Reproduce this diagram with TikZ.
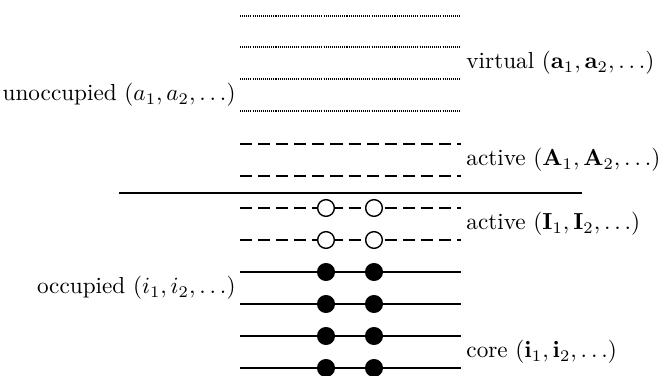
\documentclass[tikz,border=0pt]{standalone}
\usepackage{amsmath}
\usepackage{amssymb}
\usetikzlibrary{positioning}

\tikzset{
  orbit/.style={line width=0.8pt},
  virt/.style={line width=0.5pt, dash pattern=on 0.45pt off 0.45pt},
  act/.style={line width=0.8pt, dash pattern=on 5.2pt off 2.6pt},
  hole/.style={circle, draw, fill=white, line width=0.6pt, inner sep=0pt, minimum size=7.2pt},
  elec/.style={circle, fill=black, inner sep=0pt, minimum size=7.8pt},
  lbl/.style={inner sep=0pt, font=\normalsize}
}

\begin{document}
\begin{tikzpicture}[x=0.01515cm, y=-0.01515cm]
  \useasboundingbox (0,0) rectangle (661,376);
  % virtual orbitals
  \foreach \yy in {16,47,79,111}
    \draw[virt] (240,\yy) -- (461,\yy);
  % active unoccupied
  \foreach \yy in {144,176}
    \draw[act] (240,\yy) -- (461,\yy);
  % Fermi level
  \draw[line width=0.8pt] (119,193) -- (582,193);
  % active occupied
  \foreach \yy [count=\k] in {208,240}{
    \draw[act] (240,\yy) -- (461,\yy);
    \node[hole] (ha\k) at (326,\yy) {};
    \node[hole] (hb\k) at (374,\yy) {};
  }
  % core
  \foreach \yy [count=\k] in {272,304,336,368}{
    \draw[orbit] (240,\yy) -- (461,\yy);
    \node[elec] (ea\k) at (326,\yy) {};
    \node[elec] (eb\k) at (374,\yy) {};
  }
  % labels
  \node[lbl, anchor=west] (virtual) at (466,63) {virtual $(\mathbf{a}_1,\mathbf{a}_2,\ldots)$};
  \node[lbl, anchor=east] (unocc) at (236,95) {unoccupied $(a_1,a_2,\ldots)$};
  \node[lbl, anchor=west] (actA) at (466,160) {active $(\mathbf{A}_1,\mathbf{A}_2,\ldots)$};
  \node[lbl, anchor=west] (actI) at (466,224) {active $(\mathbf{I}_1,\mathbf{I}_2,\ldots)$};
  \node[lbl, anchor=east] (occ) at (236,288) {occupied $(i_1,i_2,\ldots)$};
  \node[lbl, anchor=west] (core) at (466,352) {core $(\mathbf{i}_1,\mathbf{i}_2,\ldots)$};
\end{tikzpicture}
\end{document}
